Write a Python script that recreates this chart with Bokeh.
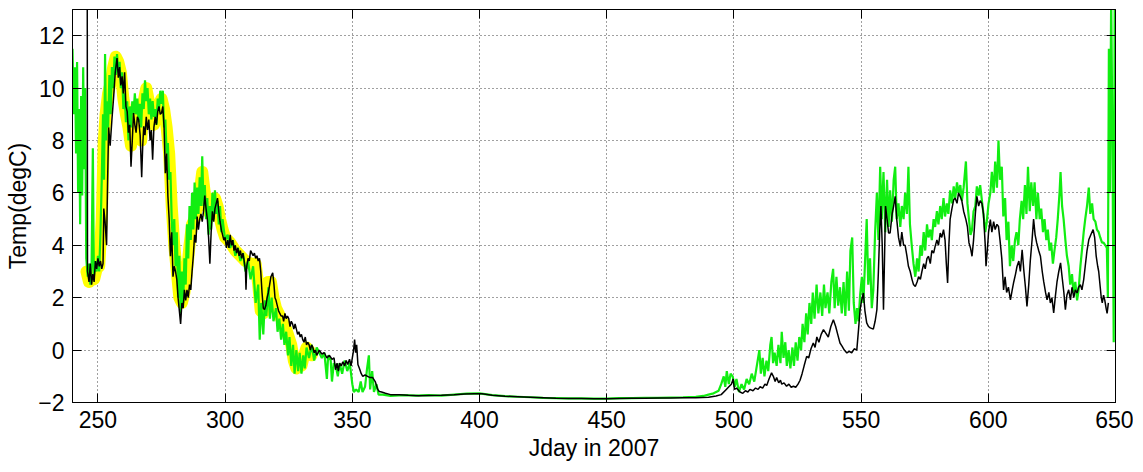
from bokeh.plotting import figure
from bokeh.models import LinearAxis, Range1d, FixedTicker
from bokeh.embed import file_html
from bokeh.resources import INLINE

x_ticks = [250, 300, 350, 400, 450, 500, 550, 600, 650]
y_ticks = [-2, 0, 2, 4, 6, 8, 10, 12]

yellow_day = [245.5, 246.5, 247.5, 248.5, 249.5, 250.5, 251.5, 252.3, 253.0, 254.0, 255.0, 256.0, 257.0, 258.0,
              259.0, 260.0, 261.0, 262.0, 263.0, 264.0, 265.0, 266.0, 267.0, 268.0, 269.0, 270.0, 271.0, 272.0,
              273.0, 274.0, 275.0, 276.0, 277.0, 278.0, 279.0, 280.0, 281.0, 282.0, 283.0, 284.0, 285.0, 286.0,
              287.0, 288.0, 289.0, 290.0, 291.0, 292.0, 293.0, 294.0, 295.0, 296.0, 297.0, 298.0, 299.0, 300.0,
              302.0, 304.0, 306.0, 308.0, 310.0, 312.0, 313.0, 314.0, 315.0, 316.0, 317.0, 318.0, 319.0, 320.0,
              322.0, 324.0, 326.0, 327.0, 328.0, 329.0, 330.0, 331.0, 332.0, 333.0, 334.0]
yellow_temp = [3.0, 2.6, 3.0, 2.7, 3.1, 3.2, 5.0, 8.0, 9.0, 9.8, 10.2, 10.8, 11.2, 11.0,
               10.6, 9.6, 9.0, 8.5, 7.8, 9.0, 9.2, 8.8, 8.0, 9.5, 10.0, 9.5, 9.0, 8.6,
               8.9, 9.4, 9.6, 9.2, 8.5, 7.5, 5.5, 4.0, 3.0, 2.0, 1.8, 2.2, 3.0, 4.0,
               4.8, 5.0, 5.5, 6.0, 6.8, 6.0, 5.5, 5.2, 5.5, 5.8, 5.5, 5.0, 4.6, 4.3,
               4.1, 3.8, 3.6, 3.4, 3.3, 3.3, 2.5, 1.5, 1.4, 2.0, 2.6, 2.6, 2.0, 1.6,
               1.2, 0.8, 0.2, -0.4, -0.7, -0.5, -0.6, -0.2, 0.1, 0.0, -0.2]

green_day = [240.0, 240.5, 241.0, 241.4, 241.8, 242.2, 242.6, 243.0, 243.4, 243.8, 244.2, 244.6, 245.0, 245.4,
             246.0, 246.5, 247.0, 247.5, 248.0, 248.4, 249.0, 249.5, 250.0, 250.5, 251.0, 251.5, 252.0, 252.4,
             252.8, 253.2, 253.6, 254.0, 254.5, 255.0, 255.5, 256.0, 256.5, 257.0, 257.5, 258.0, 258.5, 259.0,
             259.5, 260.0, 260.5, 261.0, 261.5, 262.0, 262.5, 263.0, 263.5, 264.0, 264.5, 265.0, 265.5, 266.0,
             266.5, 267.0, 267.5, 268.0, 268.5, 269.0, 269.5, 270.0, 270.5, 271.0, 271.5, 272.0, 272.5, 273.0,
             273.5, 274.0, 274.5, 275.0, 275.5, 276.0, 276.5, 277.0, 277.5, 278.0, 278.5, 279.0, 279.5, 280.0,
             280.5, 281.0, 281.5, 282.0, 282.5, 283.0, 283.5, 284.0, 284.5, 285.0, 285.5, 286.0, 286.5, 287.0,
             287.5, 288.0, 288.5, 289.0, 289.5, 290.0, 290.5, 291.0, 291.5, 292.0, 292.5, 293.0, 293.5, 294.0,
             294.5, 295.0, 295.5, 296.0, 296.5, 297.0, 297.5, 298.0, 298.5, 299.0, 300.0, 301.0, 302.0, 303.0,
             304.0, 305.0, 306.0, 307.0, 308.0, 309.0, 310.0, 311.0, 312.0, 313.0, 313.6, 314.2, 315.0, 315.6,
             316.2, 317.0, 317.6, 318.3, 319.0, 320.0, 320.6, 321.3, 322.0, 322.7, 323.3, 324.0, 324.7, 325.3,
             326.0, 326.7, 327.3, 328.0, 328.7, 329.3, 330.0, 330.7, 331.3, 332.0, 333.0, 334.0, 335.0, 336.0,
             337.0, 338.0, 339.0, 340.0, 340.5, 341.5, 342.0, 342.7, 343.5, 344.3, 345.0, 346.0, 347.0, 348.0,
             349.0, 350.0, 350.6, 351.5, 352.5, 353.3, 354.0, 355.0, 355.8, 356.5, 357.0, 357.8, 358.5, 359.5,
             360.3, 362.0, 365.0, 370.0, 375.0, 380.0, 385.0, 390.0, 395.0, 400.0, 405.0, 410.0, 415.0, 420.0,
             425.0, 430.0, 435.0, 440.0, 445.0, 450.0, 455.0, 460.0, 465.0, 470.0, 475.0, 480.0, 485.0, 488.0,
             490.0, 492.0, 494.0, 495.0, 496.0, 496.6, 497.2, 498.0, 498.7, 499.5, 500.3, 501.0, 502.0, 503.0,
             504.0, 505.0, 506.0, 507.0, 508.0, 509.0, 510.0, 510.6, 511.3, 512.0, 512.8, 513.5, 514.3, 514.8,
             515.4, 516.0, 516.8, 517.5, 518.3, 518.8, 519.5, 520.2, 520.8, 521.5, 522.2, 523.0, 523.6, 524.3,
             525.0, 525.7, 526.4, 527.0, 527.7, 528.4, 529.0, 529.7, 530.4, 531.0, 531.7, 532.5, 533.2, 534.0,
             534.7, 535.4, 536.0, 536.8, 537.5, 538.3, 539.0, 539.6, 540.3, 541.0, 541.7, 542.4, 543.1, 543.8,
             544.5, 545.2, 545.8, 546.5, 547.1, 547.8, 548.4, 549.0, 549.6, 550.3, 550.9, 551.6, 552.2, 552.8,
             553.5, 554.2, 554.8, 555.5, 556.2, 556.8, 557.5, 558.1, 558.8, 559.5, 560.2, 560.8, 561.4, 562.1,
             562.8, 563.4, 564.0, 564.7, 565.4, 566.0, 566.7, 567.3, 568.0, 568.6, 569.2, 569.9, 570.6, 571.3,
             572.0, 572.6, 573.3, 573.9, 574.6, 575.2, 575.9, 576.5, 577.2, 577.8, 578.5, 579.1, 579.8, 580.4,
             581.1, 581.7, 582.4, 583.0, 583.7, 584.3, 585.0, 585.7, 586.4, 587.0, 587.7, 588.3, 589.0, 589.6,
             590.3, 591.2, 591.8, 592.4, 593.0, 593.6, 594.2, 594.9, 595.5, 596.2, 596.8, 597.5, 598.1, 598.8,
             599.4, 600.1, 600.8, 601.4, 602.1, 602.7, 603.4, 604.0, 604.6, 605.3, 605.9, 606.6, 607.2, 607.9,
             608.5, 609.2, 609.8, 610.5, 611.1, 611.8, 612.4, 613.1, 613.7, 614.4, 615.0, 615.6, 616.3, 616.9,
             617.6, 618.2, 618.9, 619.5, 620.2, 620.8, 621.5, 622.1, 622.8, 623.4, 624.1, 624.7, 625.4, 626.0,
             626.7, 627.3, 628.0, 628.4, 629.0, 629.6, 630.3, 630.9, 631.6, 632.2, 632.9, 633.5, 634.2, 634.9,
             635.5, 636.2, 636.8, 637.5, 638.1, 638.8, 639.5, 640.1, 640.8, 641.4, 642.1, 642.7, 643.4, 644.0,
             644.7, 645.3, 646.0, 646.6, 647.0, 647.4, 647.8, 648.3, 648.8, 649.3, 649.7, 650.0]
green_temp = [11.5, 9.0, 10.8, 7.5, 11.0, 6.0, 9.2, 4.8, 9.7, 5.9, 10.8, 6.9, 10.0, 3.5,
              2.8, 3.3, 2.5, 3.2, 7.7, 2.8, 3.4, 3.0, 3.6, 3.0, 4.5, 6.5, 9.0, 6.5,
              11.3, 8.0, 9.5, 8.5, 10.5, 9.0, 10.8, 10.0, 11.2, 10.5, 11.3, 10.6, 11.0, 10.0,
              10.6, 9.2, 9.8, 8.7, 9.5, 8.0, 9.3, 8.5, 9.5, 9.0, 9.8, 9.0, 9.6, 8.7,
              9.4, 8.5, 9.8, 9.2, 10.3, 9.5, 10.0, 9.0, 9.6, 8.8, 9.5, 8.9, 9.2, 8.6,
              9.6, 9.2, 9.9, 9.4, 9.9, 8.5, 8.8, 7.5, 7.9, 6.5, 6.8, 5.0, 4.0, 5.0,
              3.2, 4.5, 2.0, 3.6, 1.4, 3.0, 1.8, 3.5, 2.5, 4.8, 3.5, 5.5, 4.2, 6.0,
              4.6, 6.4, 5.0, 6.2, 5.2, 6.6, 5.5, 7.4, 5.5, 6.3, 5.0, 5.8, 4.4, 5.5,
              4.6, 6.0, 5.0, 6.1, 5.2, 5.7, 4.8, 5.5, 4.5, 5.0, 4.2, 4.4, 3.9, 4.2,
              3.6, 3.9, 3.4, 3.7, 3.0, 3.4, 2.7, 3.2, 1.8, 2.5, 0.4, 1.8, 0.6, 1.9,
              1.3, 2.4, 1.2, 2.0, 1.1, 1.6, 0.7, 1.2, 0.4, 1.0, 0.2, 0.7, -0.2, 0.5,
              -0.6, 0.2, -0.9, 0.0, -0.8, -0.1, -0.9, -0.2, -0.7, 0.1, -0.3, 0.2, -0.4, 0.1,
              -0.1, -0.3, -0.1, -1.1, -0.2, -0.4, -1.2, -0.5, -0.6, -1.0, -0.5, -0.9, -0.4, -0.8,
              -0.5, -1.3, -1.6, -1.5, -1.6, -1.2, -1.6, -1.4, -0.7, -0.2, -1.5, -0.8, -1.6, -1.3,
              -1.7, -1.7, -1.75, -1.72, -1.74, -1.72, -1.74, -1.7, -1.66, -1.65, -1.72, -1.76, -1.78, -1.8,
              -1.82, -1.83, -1.84, -1.84, -1.85, -1.85, -1.83, -1.83, -1.82, -1.82, -1.81, -1.8, -1.78, -1.75,
              -1.7, -1.65, -1.55, -1.3, -1.0, -1.4, -0.8, -1.3, -0.9, -1.0, -1.4, -1.1, -1.6, -1.3,
              -1.5, -1.1, -1.3, -0.9, -1.2, -0.6, 0.0, -0.9, -0.3, -1.0, -0.4, -0.8, 0.2, 0.5,
              -0.5, -0.1, -0.6, 0.2, -0.5, 0.7, -0.3, 0.3, -0.6, 0.0, -0.7, 0.1, -0.6, 0.3,
              -0.4, 0.5, 0.0, 1.0, 0.3, 1.4, 0.6, 1.8, 1.0, 2.2, 1.2, 2.5, 1.4, 2.2,
              1.3, 2.5, 1.6, 2.2, 1.4, 2.6, 3.1, 1.6, 2.8, 1.7, 2.4, 1.4, 2.6, 1.3,
              3.0, 1.5, 3.8, 4.3, 1.8, 1.0, 1.6, 1.1, 2.1, 2.8, 1.8, 3.5, 5.0, 2.5,
              3.5, 1.6, 2.3, 4.5, 6.0, 4.2, 7.0, 5.0, 6.8, 4.5, 6.5, 4.7, 6.1, 4.9,
              6.5, 7.0, 5.0, 5.6, 4.7, 5.5, 5.0, 6.0, 5.2, 7.0, 4.8, 4.0, 3.3, 2.8,
              3.5, 3.0, 4.0, 3.6, 4.5, 3.8, 4.8, 4.3, 4.6, 4.2, 5.0, 4.7, 5.3, 4.8,
              5.5, 5.0, 5.8, 5.1, 5.6, 5.2, 6.1, 5.6, 6.25, 5.8, 6.4, 6.0, 6.3, 5.7,
              6.2, 7.2, 5.6, 5.0, 4.4, 4.6, 5.3, 5.5, 6.25, 5.9, 6.3, 5.7, 5.2, 4.5,
              4.9, 5.6, 6.0, 6.8, 6.0, 7.2, 6.2, 8.0, 6.5, 7.0, 5.1, 5.8, 4.2, 4.9,
              3.2, 4.0, 3.4, 4.2, 4.5, 4.0, 5.0, 5.7, 5.0, 6.3, 5.2, 7.0, 5.3, 6.4,
              5.5, 6.4, 5.0, 6.0, 5.0, 5.4, 4.5, 5.0, 4.2, 4.6, 3.8, 4.1, 3.3, 3.8,
              4.3, 5.0, 6.0, 6.8, 5.5, 5.0, 4.2, 3.6, 3.2, 2.5, 2.9, 2.2, 2.6, 1.9,
              2.3, 3.2, 3.8, 4.5, 5.0, 5.5, 6.2, 5.2, 5.6, 5.0, 4.9, 4.6, 4.5, 4.3,
              4.1, 4.1, 4.0, 3.9, 2.0, 11.5, 6.0, 13.5, 8.0, 0.3, 13.5, 13.5]

black_day = [245.8, 245.9, 246.5, 247.0, 247.5, 248.0, 248.5, 249.0, 249.5, 250.0, 250.5, 251.0, 251.5, 252.0,
             252.3, 252.8, 253.4, 253.8, 254.2, 254.8, 255.5, 256.2, 256.8, 257.5, 258.0, 258.5, 259.0, 259.5,
             260.0, 260.5, 261.0, 261.5, 262.0, 262.5, 263.0, 263.5, 264.0, 264.5, 265.0, 265.5, 266.0, 266.6,
             267.2, 267.6, 268.0, 268.5, 269.0, 269.5, 270.0, 270.5, 271.0, 271.5, 272.0, 272.5, 273.0, 273.5,
             274.0, 274.5, 275.0, 275.5, 276.0, 276.5, 277.0, 277.5, 278.0, 278.5, 279.0, 279.5, 280.0, 280.5,
             281.0, 281.5, 282.0, 282.5, 283.0, 283.5, 284.0, 284.5, 285.0, 285.5, 286.0, 286.5, 287.0, 287.5,
             288.0, 288.5, 289.0, 289.5, 290.0, 290.5, 291.0, 291.5, 292.0, 292.5, 293.0, 293.5, 294.0, 294.5,
             295.0, 295.5, 296.0, 296.5, 297.0, 297.5, 298.0, 298.5, 299.0, 299.5, 300.0, 300.5, 301.0, 301.5,
             302.0, 302.5, 303.0, 303.5, 304.0, 304.5, 305.0, 305.5, 306.0, 306.5, 307.0, 307.5, 308.0, 308.2,
             308.5, 309.0, 309.5, 310.0, 310.5, 311.0, 311.5, 312.0, 312.5, 313.0, 313.5, 314.0, 314.5, 315.0,
             315.5, 316.0, 316.5, 317.0, 317.5, 318.0, 318.7, 319.2, 319.6, 320.0, 320.5, 321.0, 321.5, 322.0,
             322.6, 323.0, 323.5, 324.0, 324.5, 325.0, 325.5, 326.0, 326.5, 327.0, 327.5, 328.0, 328.5, 329.0,
             329.5, 330.0, 330.5, 331.0, 331.5, 332.0, 332.5, 333.0, 333.5, 334.0, 334.5, 335.0, 335.5, 336.0,
             337.0, 338.0, 339.0, 340.0, 341.0, 342.0, 342.8, 343.4, 344.0, 344.5, 345.0, 345.6, 346.3, 347.0,
             347.6, 348.2, 348.9, 349.5, 350.0, 350.5, 350.9, 351.3, 351.7, 352.2, 352.8, 353.5, 354.1, 355.0,
             356.0, 357.0, 358.0, 359.0, 360.0, 360.6, 361.5, 363.0, 365.0, 368.5, 372.0, 376.0, 380.0, 385.0,
             390.0, 394.0, 398.0, 401.0, 405.0, 410.0, 415.0, 420.0, 425.0, 430.0, 435.0, 440.0, 445.0, 450.0,
             455.0, 460.0, 465.0, 470.0, 475.0, 480.0, 485.0, 490.0, 493.0, 495.0, 497.0, 498.0, 499.0, 499.7,
             500.2, 501.0, 502.4, 503.5, 504.5, 505.5, 506.3, 507.5, 508.5, 509.5, 510.3, 511.3, 512.2, 512.9,
             513.8, 514.8, 515.5, 516.2, 516.8, 517.6, 518.3, 518.8, 519.7, 520.7, 521.6, 522.5, 523.4, 524.3,
             525.2, 526.0, 526.8, 527.6, 528.6, 529.4, 530.3, 531.2, 531.9, 532.6, 533.4, 534.3, 535.2, 536.1,
             537.1, 538.1, 539.1, 540.0, 540.8, 541.7, 542.5, 543.4, 544.4, 545.3, 546.3, 547.3, 548.3, 549.0,
             549.6, 550.2, 550.9, 551.5, 552.2, 552.9, 553.6, 554.8, 555.5, 556.2, 556.8, 557.3, 557.8, 558.3,
             558.8, 559.2, 559.6, 560.2, 560.8, 561.4, 562.2, 562.8, 563.4, 564.0, 564.7, 565.4, 566.0, 566.7,
             567.3, 568.0, 568.6, 569.3, 570.0, 570.6, 571.3, 572.0, 572.6, 573.3, 573.9, 574.6, 575.2, 575.9,
             576.5, 577.2, 577.8, 578.5, 579.1, 579.8, 580.4, 581.1, 581.7, 582.4, 583.0, 583.5, 584.0, 584.5,
             585.0, 585.7, 586.4, 587.0, 587.7, 588.3, 589.0, 589.6, 590.3, 591.2, 591.8, 592.4, 593.0, 593.6,
             594.2, 594.9, 595.5, 596.2, 596.8, 597.5, 598.1, 598.8, 599.1, 599.6, 600.1, 600.8, 601.4, 602.1,
             602.7, 603.4, 604.0, 604.6, 605.3, 606.0, 606.6, 607.2, 607.9, 608.7, 609.4, 610.0, 610.7, 611.3,
             612.0, 612.6, 613.3, 614.0, 614.6, 615.2, 615.9, 616.5, 617.2, 617.8, 618.4, 619.0, 619.8, 620.5,
             621.2, 621.8, 622.5, 623.1, 623.8, 624.4, 625.0, 625.7, 626.3, 627.0, 627.7, 628.4, 629.0, 629.7,
             630.3, 630.9, 631.6, 632.3, 632.9, 633.6, 634.2, 634.9, 635.5, 636.2, 636.8, 637.5, 638.1, 638.8,
             639.5, 640.3, 641.2, 641.8, 642.4, 643.0, 643.4, 644.0, 644.4, 644.8, 645.3, 645.8, 646.3, 646.7,
             647.2]
black_temp = [13.5, 3.0, 2.6, 3.3, 2.5, 2.9, 2.6, 3.4, 3.1, 3.5, 3.2, 3.4, 3.1, 3.3,
              5.4, 4.9, 4.0, 6.5, 8.5, 7.8, 8.8, 9.7, 10.6, 11.15, 10.4, 10.8, 10.1, 10.45,
              9.8, 10.6, 9.3, 9.1, 8.3, 8.6, 7.0, 8.0, 9.05, 8.6, 8.3, 8.9, 8.8, 8.2,
              6.6, 7.8, 8.54, 8.2, 8.9, 8.4, 8.8, 8.0, 8.4, 7.27, 8.5, 8.9, 8.6, 9.1,
              9.3, 9.0, 9.05, 9.3, 8.5, 6.75, 7.5, 5.87, 5.0, 3.58, 4.5, 2.8, 3.2, 3.0,
              2.7, 2.0, 1.5, 1.0, 1.8, 1.6, 2.3, 1.9, 2.3, 2.0, 2.5, 2.3, 3.0, 3.6,
              4.4, 4.1, 5.1, 4.6, 5.0, 5.2, 4.9, 5.3, 5.9, 5.4, 5.0, 4.3, 3.3, 4.5,
              5.3, 4.9, 5.4, 5.6, 5.8, 5.3, 4.9, 4.6, 4.4, 4.2, 4.3, 3.9, 4.2, 3.9,
              4.4, 4.0, 4.2, 3.8, 4.0, 3.7, 3.9, 3.6, 3.8, 3.5, 3.7, 3.4, 3.0, 2.3,
              3.2, 3.5, 3.4, 3.8, 3.7, 3.6, 3.7, 3.5, 3.6, 3.4, 3.5, 3.0, 2.2, 1.6,
              1.55, 1.7, 2.0, 2.2, 2.5, 2.8, 2.95, 2.5, 2.0, 1.9, 1.7, 1.5, 1.4, 1.3,
              1.3, 1.1, 1.4, 1.2, 1.3, 1.2, 0.9, 1.1, 1.0, 0.8, 1.0, 0.8, 0.6, 0.7,
              0.5, 0.6, 0.4, 0.3, 0.5, 0.2, 0.3, 0.2, 0.0, 0.2, 0.1, -0.1, 0.0, -0.2,
              0.0, -0.15, -0.1, -0.3, -0.2, -0.35, -0.3, -0.75, -0.5, -0.8, -0.5, -0.6, -0.45, -0.6,
              -0.4, -0.55, -0.35, -0.6, -0.3, 0.0, 0.4, -0.1, 0.2, -0.55, -0.7, -0.9, -1.0, -0.95,
              -1.0, -1.05, -1.05, -1.2, -1.5, -1.58, -1.6, -1.65, -1.7, -1.7, -1.72, -1.74, -1.73, -1.72,
              -1.7, -1.68, -1.67, -1.67, -1.72, -1.76, -1.78, -1.8, -1.82, -1.84, -1.85, -1.85, -1.86, -1.86,
              -1.85, -1.84, -1.84, -1.83, -1.83, -1.82, -1.82, -1.8, -1.75, -1.7, -1.5, -1.4, -1.3, -1.1,
              -1.5, -1.45, -1.6, -1.65, -1.55, -1.6, -1.5, -1.55, -1.45, -1.5, -1.4, -1.45, -1.3, -1.35,
              -1.1, -0.87, -1.0, -1.2, -1.05, -1.25, -1.15, -1.3, -1.25, -1.38, -1.3, -1.42, -1.38, -1.42,
              -1.3, -1.15, -0.9, -0.6, -0.24, -0.3, 0.05, 0.27, 0.1, 0.5, 0.3, 0.6, 0.78, 0.65,
              0.5, 0.9, 1.16, 0.9, 0.6, 0.27, 0.15, 0.0, -0.11, -0.05, -0.1, 0.05, 0.0, 0.8,
              1.54, 1.9, 2.18, 1.5, 1.04, 0.9, 0.85, 0.8, 1.1, 1.54, 3.0, 4.5, 5.5, 4.0,
              1.54, 3.5, 5.5, 5.0, 4.47, 4.47, 5.2, 5.5, 5.87, 5.0, 4.3, 3.96, 4.5, 4.0,
              4.0, 3.6, 3.2, 3.0, 2.7, 2.5, 2.43, 2.6, 2.8, 2.7, 3.0, 3.3, 3.1, 3.5,
              3.58, 3.3, 3.8, 3.7, 3.96, 4.2, 4.0, 4.47, 4.3, 4.6, 4.2, 3.3, 2.56, 4.0,
              5.0, 5.4, 5.74, 5.8, 5.6, 6.0, 5.85, 5.7, 5.3, 4.98, 4.7, 4.1, 3.9, 3.58,
              4.2, 5.2, 5.87, 5.5, 5.7, 5.6, 5.2, 4.0, 3.2, 3.8, 4.5, 4.98, 4.5, 4.9,
              4.6, 4.8, 4.72, 4.2, 3.5, 2.3, 2.8, 2.2, 2.4, 1.92, 2.3, 2.6, 2.9, 3.2,
              3.4, 3.0, 3.83, 3.0, 2.4, 1.67, 2.5, 3.4, 4.2, 5.0, 4.4, 4.1, 3.8, 3.58,
              3.0, 2.6, 2.2, 1.92, 2.2, 1.8, 2.0, 1.42, 2.0, 2.6, 3.0, 3.33, 2.8, 2.2,
              1.54, 2.1, 2.3, 1.92, 2.4, 2.0, 2.3, 2.18, 2.4, 2.5, 2.3, 2.69, 3.2, 3.8,
              4.21, 4.4, 4.6, 4.3, 3.6, 3.2, 3.0, 2.4, 2.0, 1.8, 2.1, 1.9, 1.6, 1.4,
              1.8]

FONT = "Liberation Sans"

p = figure(output_backend="svg", toolbar_location=None,
           x_range=Range1d(240, 650), y_range=Range1d(-2, 13),
           x_axis_label="Jday in 2007", y_axis_label="Temp(degC)",
           frame_width=1043, frame_height=393,
           min_border_left=72, min_border_right=18, min_border_top=9, min_border_bottom=60)

p.line(yellow_day, yellow_temp, line_color="#ffff00", line_width=12, line_join="round", line_cap="round")
p.line(green_day, green_temp, line_color="#11ee11", line_width=2.2)
p.line(black_day, black_temp, line_color="black", line_width=1.5)

p.outline_line_color = "black"
p.outline_line_width = 1
p.outline_line_alpha = 1

for ax in p.xaxis:
    ax.ticker = FixedTicker(ticks=x_ticks)
for ax in p.yaxis:
    ax.ticker = FixedTicker(ticks=y_ticks)

for ax in list(p.xaxis) + list(p.yaxis):
    ax.major_tick_in = 9
    ax.major_tick_out = 0
    ax.minor_tick_in = 0
    ax.minor_tick_out = 0
    ax.axis_line_color = "black"
    ax.major_tick_line_color = "black"
    ax.major_label_text_font = FONT
    ax.major_label_text_font_size = "23px"
    ax.major_label_text_color = "black"
    ax.axis_label_text_font = FONT
    ax.axis_label_text_font_size = "23px"
    ax.axis_label_text_font_style = "normal"
    ax.axis_label_text_color = "black"
    ax.major_label_standoff = 8
    ax.axis_label_standoff = 4

right = LinearAxis(ticker=FixedTicker(ticks=y_ticks),
                   major_label_overrides={t: "" for t in y_ticks},
                   major_tick_in=9, major_tick_out=0, minor_tick_in=0, minor_tick_out=0,
                   major_label_standoff=0)
above = LinearAxis(ticker=FixedTicker(ticks=x_ticks),
                   major_label_overrides={t: "" for t in x_ticks},
                   major_tick_in=9, major_tick_out=0, minor_tick_in=0, minor_tick_out=0,
                   major_label_standoff=0)
p.add_layout(right, "right")
p.add_layout(above, "above")

p.xgrid.ticker = FixedTicker(ticks=x_ticks)
p.ygrid.ticker = FixedTicker(ticks=y_ticks)
for g in (p.xgrid, p.ygrid):
    g.grid_line_color = "black"
    g.grid_line_alpha = 0.75
    g.grid_line_dash = "1 3"
    g.grid_line_width = 1

p.background_fill_color = "white"
p.border_fill_color = "white"

open("out.html", "w").write(file_html(p, INLINE))
